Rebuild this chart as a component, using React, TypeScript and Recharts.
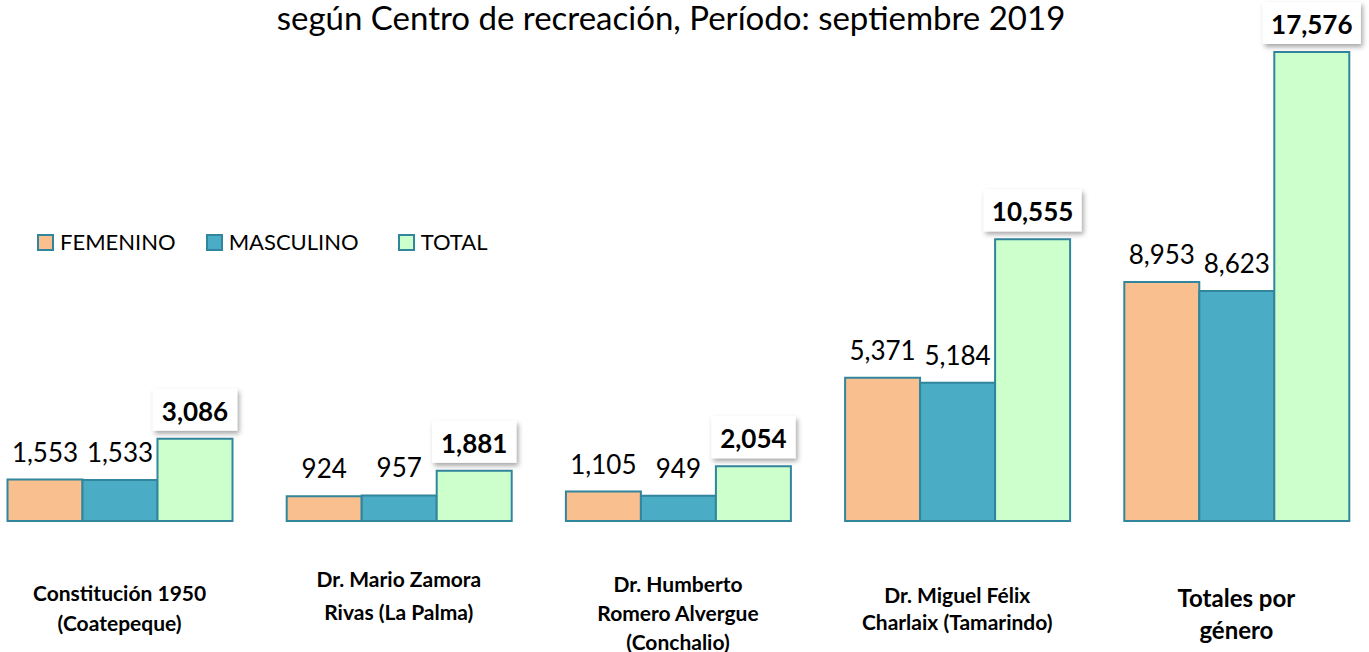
import React from 'react';
import { BarChart, Bar, XAxis, YAxis, LabelList } from 'recharts';

const categories = [
  ['Constitución 1950', '(Coatepeque)'],
  ['Dr. Mario Zamora', 'Rivas (La Palma)'],
  ['Dr. Humberto', 'Romero Alvergue', '(Conchalio)'],
  ['Dr. Miguel Félix', 'Charlaix (Tamarindo)'],
  ['Totales por', 'género'],
];
const femenino = [1553, 924, 1105, 5371, 8953];
const masculino = [1533, 957, 949, 5184, 8623];
const total = [3086, 1881, 2054, 10555, 17576];

const data = categories.map((c, i) => ({
  name: c.join(' '),
  femenino: femenino[i],
  masculino: masculino[i],
  total: total[i],
}));

const FONT = 'Lato, "Noto Sans", sans-serif';
const STROKE = '#31859C';

// first-line y and line height for each category label
const tickLayout = [
  { y: 592, lh: 30, size: 21 },
  { y: 578, lh: 33, size: 21 },
  { y: 583, lh: 29, size: 21 },
  { y: 594, lh: 27, size: 21 },
  { y: 597, lh: 32, size: 24 },
];

const fmt = (v: number) => v.toLocaleString('en-US');

const CategoryTick = (props: any) => {
  const { x, index } = props;
  const lines = categories[index] || [];
  const l = tickLayout[index];
  return (
    <g>
      {lines.map((t, k) => (
        <text key={k} x={x} y={l.y + k * l.lh} textAnchor="middle" dominantBaseline="central"
          fontFamily={FONT} fontWeight="bold" fontSize={l.size} fill="#000">{t}</text>
      ))}
    </g>
  );
};

const TotalLabel = (props: any) => {
  const { x, y, width, value } = props;
  const s = fmt(value);
  const digits = s.replace(/,/g, '').length;
  const w = digits * 13.6 + 6 + 24;
  const h = 42;
  const cx = x + width / 2;
  const top = y - 8 - h;
  return (
    <g>
      <rect x={cx - w / 2} y={top} width={w} height={h} fill="#fff" filter="url(#shadow)" />
      <text x={cx} y={top + h / 2 + 1} textAnchor="middle" dominantBaseline="central"
        fontFamily={FONT} fontWeight="bold" fontSize={26} fill="#000">{s}</text>
    </g>
  );
};

const legendItems = [
  { label: 'FEMENINO', color: '#F9BF8F', gap: 30 },
  { label: 'MASCULINO', color: '#4BACC6', gap: 39 },
  { label: 'TOTAL', color: '#CCFFCC', gap: 0 },
];

export default function App() {
  return (
    <div style={{ position: 'absolute', left: 0, top: 0, width: 1369, height: 652, overflow: 'hidden', background: '#fff' }}>
      <div style={{ position: 'absolute', left: 0, width: 1342, top: -1, textAlign: 'center',
        fontFamily: FONT, fontSize: 33, lineHeight: '36px', color: '#000' }}>
        según Centro de recreación, Período: septiembre 2019
      </div>
      <div style={{ position: 'absolute', left: -20, top: 0 }}>
        <BarChart width={1396} height={652} data={data} barGap={0} barCategoryGap={27.5}
          margin={{ top: 14, right: 0, bottom: 101, left: 0 }}>
          <defs>
            <filter id="shadow" x="-20%" y="-20%" width="150%" height="160%">
              <feDropShadow dx="2" dy="3" stdDeviation="2.5" floodColor="#000" floodOpacity="0.35" />
            </filter>
          </defs>
          <XAxis dataKey="name" axisLine={false} tickLine={false} interval={0} height={30} tick={<CategoryTick />} />
          <YAxis hide domain={[0, 19000]} />
          <Bar dataKey="femenino" fill="#F9BF8F" stroke={STROKE} strokeWidth={2} isAnimationActive={false}>
            <LabelList dataKey="femenino" position="top" offset={18} formatter={(v: any) => fmt(v)}
              style={{ fontFamily: FONT, fontSize: 26, fill: '#000' }} />
          </Bar>
          <Bar dataKey="masculino" fill="#4BACC6" stroke={STROKE} strokeWidth={2} isAnimationActive={false}>
            <LabelList dataKey="masculino" position="top" offset={18} formatter={(v: any) => fmt(v)}
              style={{ fontFamily: FONT, fontSize: 26, fill: '#000' }} />
          </Bar>
          <Bar dataKey="total" fill="#CCFFCC" stroke={STROKE} strokeWidth={2} isAnimationActive={false}>
            <LabelList dataKey="total" content={<TotalLabel />} />
          </Bar>
        </BarChart>
      </div>
      <div style={{ position: 'absolute', left: 37, top: 228, display: 'flex', alignItems: 'center',
        fontFamily: FONT, fontSize: 22, lineHeight: '28px', color: '#000' }}>
        {legendItems.map((it) => (
          <div key={it.label} style={{ display: 'flex', alignItems: 'center', marginRight: it.gap }}>
            <span style={{ display: 'inline-block', width: 13, height: 13, background: it.color,
              border: `2px solid ${STROKE}`, marginRight: 6 }} />
            <span>{it.label}</span>
          </div>
        ))}
      </div>
    </div>
  );
}
